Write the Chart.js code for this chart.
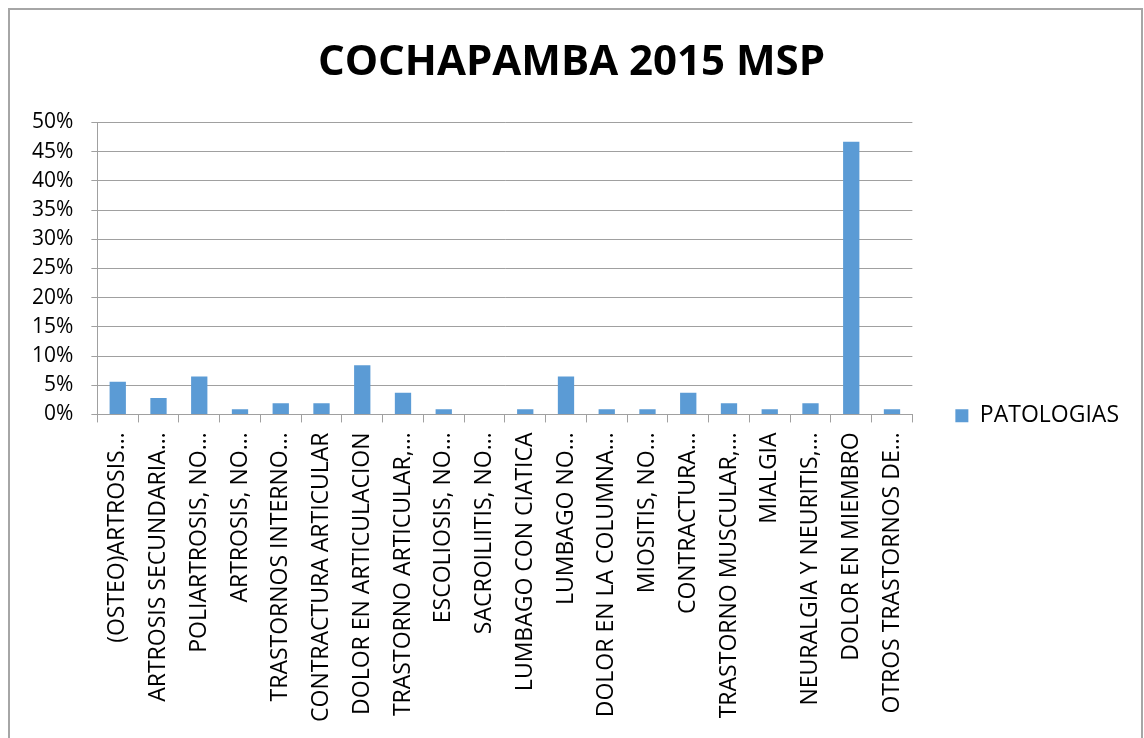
<!DOCTYPE html>
<html>
<head>
<meta charset="utf-8">
<title>COCHAPAMBA 2015 MSP</title>
<script src="https://cdn.jsdelivr.net/npm/chart.js@4.4.1/dist/chart.umd.min.js"></script>
<style>
    html, body { margin: 0; padding: 0; background: #fff; }
    #frame {
        position: absolute; left: 8px; top: 8px;
        width: 1131px; height: 740px;
        border: 2px solid #a6a6a6;
    }
    #chartBox { position: absolute; left: 0; top: 0; width: 1144px; height: 738px; }
</style>
</head>
<body>
<div id="frame"></div>
<div id="chartBox"><canvas id="patologiasChart" width="1144" height="738"></canvas></div>
<script>
// --- Data ---
const categories = [
    '(OSTEO)ARTROSIS…',
    'ARTROSIS SECUNDARIA…',
    'POLIARTROSIS, NO…',
    'ARTROSIS, NO…',
    'TRASTORNOS INTERNO…',
    'CONTRACTURA ARTICULAR',
    'DOLOR EN ARTICULACION',
    'TRASTORNO ARTICULAR,…',
    'ESCOLIOSIS, NO…',
    'SACROILIITIS, NO…',
    'LUMBAGO CON CIATICA',
    'LUMBAGO NO…',
    'DOLOR EN LA COLUMNA…',
    'MIOSITIS, NO…',
    'CONTRACTURA…',
    'TRASTORNO MUSCULAR,…',
    'MIALGIA',
    'NEURALGIA Y NEURITIS,…',
    'DOLOR EN MIEMBRO',
    'OTROS TRASTORNOS DE…'
];
const patologias = [0.056, 0.028, 0.065, 0.009, 0.019, 0.019, 0.084, 0.037, 0.009, 0, 0.009, 0.065, 0.009, 0.009, 0.037, 0.019, 0.009, 0.019, 0.467, 0.009];
const seriesLabel = 'PATOLOGIAS';
const chartTitle = 'COCHAPAMBA 2015 MSP';
const yMax = 0.5;
const yStep = 0.05;

const barColor = '#5b9bd5';
const gridColor = '#a0a0a0';
const fontFamily = "'Open Sans', sans-serif";

// --- Chart ---
const ctx = document.getElementById('patologiasChart').getContext('2d');
const patologiasChart = new Chart(ctx, {
    type: 'bar',
    data: {
        labels: categories,
        datasets: [{
            label: seriesLabel,
            data: patologias,
            backgroundColor: barColor,
            borderWidth: 0,
            barPercentage: 0.4,
            categoryPercentage: 1
        }]
    },
    options: {
        responsive: false,
        animation: false,
        layout: { padding: { left: 14, right: 15, top: 0, bottom: 6 } },
        scales: {
            x: {
                grid: { offset: true, drawOnChartArea: false, drawTicks: true, tickLength: 8, color: gridColor },
                border: { color: gridColor },
                ticks: {
                    autoSkip: false,
                    minRotation: 90,
                    maxRotation: 90,
                    padding: 10,
                    color: '#000',
                    font: { family: fontFamily, size: 23 }
                }
            },
            y: {
                min: 0,
                max: yMax,
                grid: { color: gridColor, tickLength: 6 },
                border: { color: gridColor },
                ticks: {
                    stepSize: yStep,
                    padding: 18,
                    color: '#000',
                    font: { family: fontFamily, size: 21 },
                    callback: value => Math.round(value * 100) + '%'
                }
            }
        },
        plugins: {
            title: {
                display: true,
                text: chartTitle,
                color: '#000',
                font: { family: fontFamily, size: 42, weight: 'bold' },
                padding: { top: 38, bottom: 34 }
            },
            legend: {
                position: 'right',
                // empty legend title only pushes the single item down to the plot's lower half
                title: { display: true, text: '', font: { size: 12 }, padding: { top: 85, bottom: 0 } },
                labels: {
                    boxWidth: 13,
                    boxHeight: 13,
                    padding: 43,
                    color: '#000',
                    font: { family: fontFamily, size: 23 }
                }
            },
            tooltip: { enabled: false }
        }
    }
});
</script>
</body>
</html>
